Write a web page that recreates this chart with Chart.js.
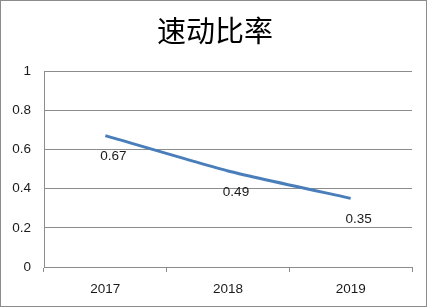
<!DOCTYPE html>
<html><head><meta charset="utf-8">
<script src="https://cdn.jsdelivr.net/npm/chart.js@4"></script>
<style>
html,body{margin:0;padding:0;background:#fff;}
#wrap{position:absolute;left:0;top:0;width:425px;height:305px;border:1px solid #8c8c8c;}
canvas{display:block;}
</style></head>
<body><div id="wrap"><canvas id="c" width="425" height="305"></canvas></div>
<script>
const chartTitle = '速动比率';
const categories = ['2017','2018','2019'];
const quickRatio = [0.67, 0.49, 0.35];
const labelTexts = ['0.67','0.49','0.35'];
const yTicks = [0, 0.2, 0.4, 0.6, 0.8, 1];

const tickFont = {family:'"Liberation Sans", Arial, sans-serif', size:13.5};

const extras = {
  id:'extras',
  afterDatasetsDraw(chart){
    const ctx = chart.ctx;
    const meta = chart.getDatasetMeta(0);
    ctx.save();
    ctx.font = '13.5px "Liberation Sans", Arial, sans-serif';
    ctx.fillStyle = '#1a1a1a';
    ctx.textAlign = 'center';
    ctx.textBaseline = 'middle';
    meta.data.forEach((pt,i)=>{
      ctx.fillText(labelTexts[i], pt.x + 8, pt.y + 21);
    });
    ctx.font = '29px "Noto Sans CJK SC", sans-serif';
    ctx.fillStyle = '#000';
    ctx.fillText(chartTitle, 214, 30);
    ctx.restore();
  }
};

new Chart(document.getElementById('c'), {
  type:'line',
  data:{labels:categories, datasets:[{data:quickRatio, borderColor:'#4a7ebb', borderWidth:3, pointRadius:0, tension:0.15, fill:false}]},
  options:{
    responsive:false, animation:false, devicePixelRatio:1,
    layout:{padding:{left:0,right:14,top:70,bottom:0}},
    plugins:{
      legend:{display:false}, tooltip:{enabled:false}, title:{display:false}
    },
    scales:{
      x:{
        offset:true,
        grid:{display:true, drawOnChartArea:false, offset:true, tickLength:5, color:'#8c8c8c'},
        border:{display:true, color:'#8c8c8c', width:1},
        ticks:{color:'#1a1a1a', font:tickFont, padding:9, maxRotation:0},
        afterFit(s){ s.height = 39; }
      },
      y:{
        min:0, max:1,
        afterBuildTicks(s){ s.ticks = yTicks.map(v=>({value:v})); },
        grid:{color:'#8c8c8c', drawTicks:false},
        border:{display:true, color:'#8c8c8c', width:1},
        ticks:{color:'#1a1a1a', font:tickFont, padding:13, callback:v=>String(v)},
        afterFit(s){ s.width = 43; }
      }
    }
  },
  plugins:[extras]
});
</script></body></html>
